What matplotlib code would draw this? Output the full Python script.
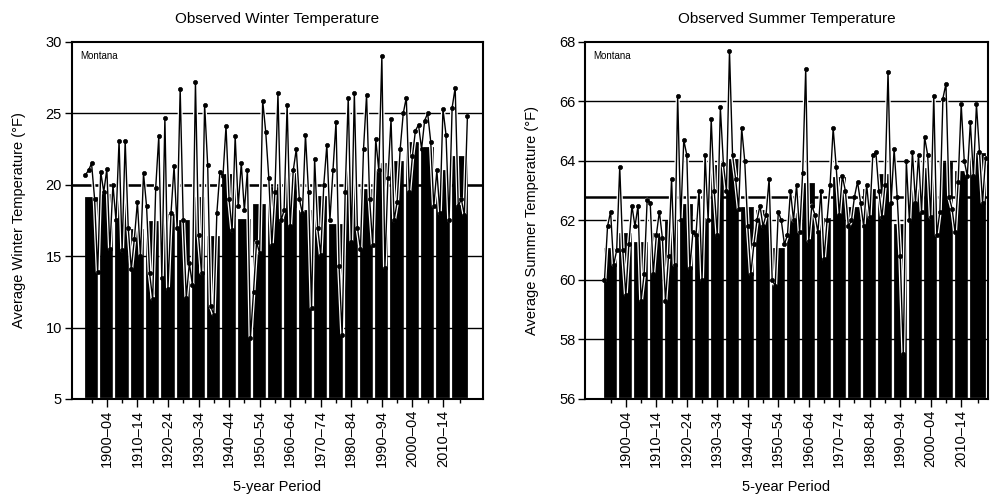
import matplotlib
matplotlib.use("Agg")
import matplotlib.pyplot as plt
import matplotlib.patheffects as pe
import numpy as np

plt.rcParams['font.family'] = ['Liberation Sans', 'DejaVu Sans']

years = list(range(1895, 2021))

winter_annual = [
    20.7, 21.0, 21.5, 19.0, 13.9,
    20.9, 19.5, 21.1, 15.5, 20.0,
    17.5, 23.1, 15.4, 23.1, 17.0,
    14.1, 16.2, 18.8, 15.0, 20.8,
    18.5, 13.8, 12.0, 19.8, 23.4,
    13.5, 24.7, 12.7, 18.0, 21.3,
    17.0, 26.7, 17.5, 12.1, 14.5,
    13.0, 27.2, 16.5, 13.8, 25.6,
    21.4, 11.5, 10.9, 18.0, 20.9,
    20.6, 24.1, 19.0, 16.8, 23.4,
    18.5, 21.5, 18.2, 21.0, 9.3,
    12.5, 16.0, 15.2, 25.9, 23.7,
    20.5, 15.8, 19.5, 26.4, 17.5,
    18.2, 25.6, 17.1, 21.0, 22.5,
    19.0, 18.0, 23.5, 19.5, 11.4,
    21.8, 17.0, 15.1, 20.0, 22.8,
    17.5, 21.0, 24.4, 14.3, 9.5,
    19.5, 26.1, 16.0, 26.4, 17.0,
    15.5, 22.5, 26.3, 19.0, 15.8,
    23.2, 21.0, 29.0, 14.2, 20.5,
    24.6, 17.5, 18.8, 22.5, 25.0,
    26.1, 19.5, 22.0, 23.8, 24.2,
    22.5, 24.5, 25.0, 23.0, 18.5,
    21.0, 18.0, 25.3, 23.5, 17.5,
    25.4, 26.8, 18.5, 19.0, 17.9, 24.8,
]

summer_annual = [
    60.0, 61.8, 62.3, 60.5, 61.0,
    63.8, 61.0, 59.5, 61.2, 62.5,
    61.8, 62.5, 59.3, 60.2, 62.7,
    62.6, 60.2, 61.5, 62.3, 61.4,
    59.3, 60.8, 63.4, 60.5, 66.2,
    62.0, 64.7, 64.2, 60.4, 61.6,
    61.5, 63.0, 60.0, 64.2, 62.0,
    65.4, 63.0, 61.5, 65.8, 63.9,
    63.0, 67.7, 64.2, 63.4, 62.4,
    65.1, 64.0, 61.8, 60.2, 61.2,
    62.0, 62.5, 61.8, 62.2, 63.4,
    60.0, 59.8, 62.3, 62.0, 61.2,
    61.5, 63.0, 62.0, 63.2, 61.6,
    63.6, 67.1, 61.3, 62.5, 62.2,
    61.6, 63.0, 60.7, 62.0, 63.2,
    65.1, 63.8, 62.2, 63.5, 63.0,
    61.8, 62.0, 62.8, 63.3, 62.6,
    61.8, 63.2, 62.1, 64.2, 64.3,
    63.0, 62.1, 63.2, 67.0, 62.6,
    64.4, 62.8, 60.8, 57.5, 64.0,
    62.0, 64.3, 62.6, 64.2, 62.3,
    64.8, 64.2, 62.1, 66.2, 61.5,
    62.3, 66.1, 66.6, 62.8, 62.4,
    61.6, 63.3, 65.9, 64.0, 63.5,
    65.3, 63.5, 65.9, 64.3, 62.6, 64.1,
]

period_starts = list(range(1895, 2020, 5))
period_ends = period_starts[1:] + [2021]
period_labels = ["1895\u201399", "1900\u201304", "1905\u201309", "1910\u201314", "1915\u201319",
                 "1920\u201324", "1925\u201329", "1930\u201334", "1935\u201339", "1940\u201344",
                 "1945\u201349", "1950\u201354", "1955\u201359", "1960\u201364", "1965\u201369",
                 "1970\u201374", "1975\u201379", "1980\u201384", "1985\u201389", "1990\u201394",
                 "1995\u201399", "2000\u201304", "2005\u201309", "2010\u201314", "2015\u201320"]

winter_bars = [19.2, 19.4, 19.2, 17.0, 17.5, 18.0, 17.6, 19.2, 16.5, 20.8,
               17.7, 18.7, 19.9, 20.9, 18.3, 19.3, 17.3, 21.0, 19.8, 21.6,
               21.7, 23.1, 22.7, 21.1, 22.1]
summer_bars = [61.1, 61.6, 61.3, 61.6, 62.0, 62.6, 62.1, 63.9, 64.1, 62.5,
               62.4, 61.1, 62.3, 63.3, 62.1, 63.5, 62.5, 63.1, 63.6, 61.9,
               63.1, 63.8, 64.0, 63.7, 64.3]

winter_avg = 20.0
summer_avg = 62.8

fig = plt.figure(figsize=(9.93, 4.95), dpi=100)
ax_w = fig.add_axes([0.0722, 0.194, 0.4142, 0.7212])
ax_s = fig.add_axes([0.5891, 0.194, 0.4059, 0.7212])


def draw(ax, annual, bars, avg, ymin, ymax, yticks, xlim, title, ylabel):
    starts = np.array(period_starts, dtype=float)
    ends = np.array(period_ends, dtype=float)
    widths = ends - starts
    heights = np.array(bars) - ymin
    ax.bar(starts, heights, width=widths, bottom=ymin, align='edge',
           color='black', edgecolor='white', linewidth=1.6, zorder=1)
    for t in yticks[1:-1]:
        ax.axhline(t, color='black', linewidth=1.0, zorder=2)
    ax.axhline(avg, color='black', linewidth=1.8, zorder=2)
    xs = np.array(years) + 0.5
    halo = [pe.withStroke(linewidth=2.8, foreground='white')]
    ax.plot(xs, annual, color='black', linewidth=1.0, zorder=3, path_effects=halo)
    ax.plot(xs, annual, linestyle='none', marker='o', markersize=3.0,
            markerfacecolor='black', markeredgecolor='black', markeredgewidth=0.5,
            zorder=4)
    ax.set_ylim(ymin, ymax)
    ax.set_xlim(*xlim)
    ax.set_yticks(yticks)
    ax.set_yticklabels([str(t) for t in yticks], fontsize=10.5)
    centers = (starts + ends) / 2
    major_idx = [i for i, s in enumerate(period_starts) if s % 10 == 0]
    minor_idx = [i for i, s in enumerate(period_starts) if s % 10 != 0]
    ax.set_xticks(centers[major_idx])
    ax.set_xticklabels([period_labels[i] for i in major_idx], rotation=90, fontsize=10.5)
    ax.set_xticks(centers[minor_idx], minor=True)
    ax.tick_params(axis='x', which='major', length=6, width=1.0, direction='out', pad=2)
    ax.tick_params(axis='x', which='minor', length=3, width=1.0, direction='out')
    ax.tick_params(axis='y', length=5, width=1.0, direction='out', pad=2)
    for sp in ax.spines.values():
        sp.set_linewidth(1.5)
    ax.set_title(title, fontsize=11, pad=14)
    ax.set_xlabel("5-year Period", fontsize=10.5, labelpad=9)
    ax.set_ylabel(ylabel, fontsize=10.5, labelpad=14)
    ax.text(0.02, 0.975, "Montana", transform=ax.transAxes, fontsize=7,
            ha='left', va='top', zorder=5)


draw(ax_w, winter_annual, winter_bars, winter_avg, 5, 30, [5, 10, 15, 20, 25, 30],
     (1891.0, 2025.6), "Observed Winter Temperature", "Average Winter Temperature (\u00b0F)")
draw(ax_s, summer_annual, summer_bars, summer_avg, 56, 68, [56, 58, 60, 62, 64, 66, 68],
     (1889.1, 2021.3), "Observed Summer Temperature", "Average Summer Temperature (\u00b0F)")

fig.savefig("out.png", dpi=100)
